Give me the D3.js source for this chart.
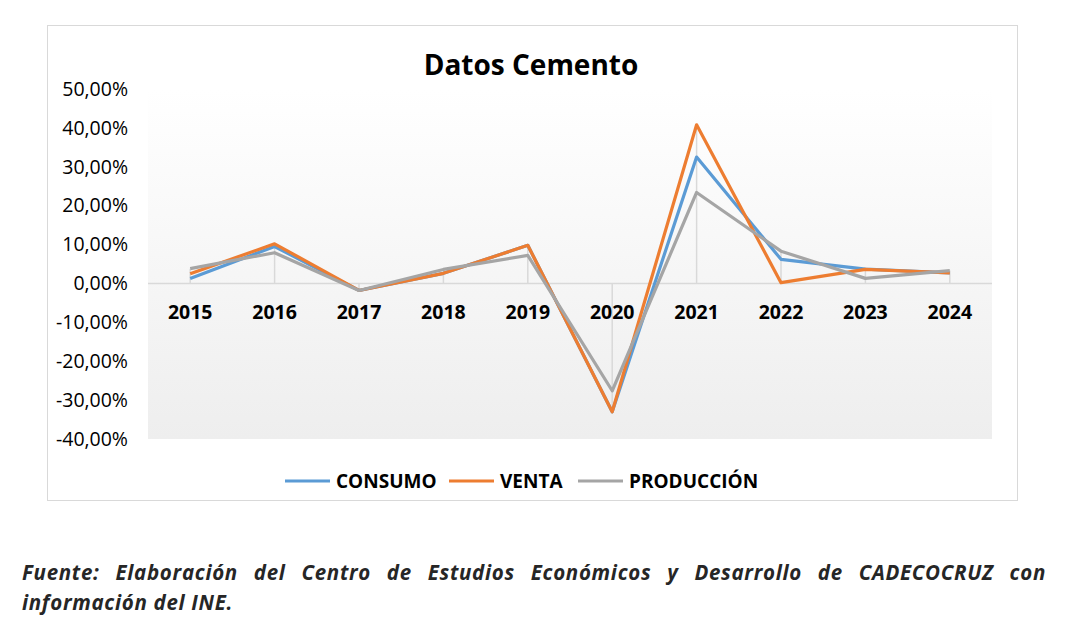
<!DOCTYPE html>
<html>
<head>
<meta charset="utf-8">
<style>
  html, body { margin: 0; padding: 0; background: #fff; }
  #chart { position: absolute; left: 0; top: 0; }
  .note {
    position: absolute; left: 22px; top: 557px; width: 1024px;
    font-family: "Open Sans", sans-serif;
    font-weight: bold; font-style: italic; font-size: 20.5px;
    letter-spacing: 0.7px;
    line-height: 30px; color: #262626;
    text-align: justify; text-align-last: left;
  }
</style>
</head>
<body>
<div id="chart"></div>
<div class="note">Fuente: Elaboración del Centro de Estudios Económicos y Desarrollo de CADECOCRUZ con información del INE.</div>

<script src="https://d3js.org/d3.v7.min.js"></script>
<script>

var years = ["2015", "2016", "2017", "2018", "2019", "2020", "2021", "2022", "2023", "2024"];
var consumo    = [1.3, 9.5, -1.8, 2.6, 9.8, -33.0, 32.5, 6.2, 3.7, 2.7];
var venta      = [2.5, 10.2, -1.8, 2.6, 9.8, -33.0, 40.8, 0.2, 3.6, 2.7];
var produccion = [3.8, 7.9, -1.8, 3.6, 7.2, -27.6, 23.4, 8.3, 1.3, 3.3];
var yTicks = [50, 40, 30, 20, 10, 0, -10, -20, -30, -40];

var seriesNames = ["CONSUMO", "VENTA", "PRODUCCIÓN"];
var seriesColors = ["#5b9bd5", "#ed7d31", "#a5a5a5"];
var series = [consumo, venta, produccion];

var font = "'Open Sans', sans-serif";

var W = 1076, H = 621;
var svg = d3.select("#chart").append("svg")
    .attr("width", W)
    .attr("height", H);

// outer chart frame
svg.append("rect")
    .attr("x", 47.5).attr("y", 25.5)
    .attr("width", 970).attr("height", 475)
    .attr("fill", "#fff")
    .attr("stroke", "#d9d9d9");

var x = d3.scaleBand()
    .domain(years)
    .range([148, 992]);

var y = d3.scaleLinear()
    .domain([-40, 50])
    .range([439, 89]);

var defs = svg.append("defs");
var grad = defs.append("linearGradient")
    .attr("id", "bg").attr("x1", 0).attr("y1", 0).attr("x2", 0).attr("y2", 1);
grad.append("stop").attr("offset", "0%").attr("stop-color", "#ffffff");
grad.append("stop").attr("offset", "100%").attr("stop-color", "#eeeeee");

svg.append("rect")
    .attr("x", 148).attr("y", y(50))
    .attr("width", 844).attr("height", y(-40) - y(50))
    .attr("fill", "url(#bg)");

// drop lines
var drops = years.map(function(d, i) {
  var vals = series.map(function(s) { return s[i]; });
  return { year: d, lo: Math.min(0, d3.min(vals)), hi: Math.max(0, d3.max(vals)) };
});
svg.append("g").selectAll("line")
    .data(drops)
  .enter().append("line")
    .attr("x1", function(d) { return x(d.year) + x.bandwidth() / 2; })
    .attr("x2", function(d) { return x(d.year) + x.bandwidth() / 2; })
    .attr("y1", function(d) { return y(d.lo); })
    .attr("y2", function(d) { return y(d.hi); })
    .attr("stroke", "#d9d9d9")
    .attr("stroke-width", 1.5);

// zero axis
svg.append("line")
    .attr("x1", 148).attr("x2", 992)
    .attr("y1", y(0)).attr("y2", y(0))
    .attr("stroke", "#d9d9d9")
    .attr("stroke-width", 1.5);

// y labels
svg.append("g").selectAll("text")
    .data(yTicks)
  .enter().append("text")
    .attr("x", 128)
    .attr("y", function(d) { return y(d); })
    .attr("dy", "0.35em")
    .attr("text-anchor", "end")
    .style("font-family", font)
    .style("font-size", "19.5px")
    .attr("fill", "#000")
    .text(function(d) { return d.toFixed(2).replace(".", ",") + "%"; });

// x labels
svg.append("g").selectAll("text")
    .data(years)
  .enter().append("text")
    .attr("x", function(d) { return x(d) + x.bandwidth() / 2; })
    .attr("y", 319)
    .attr("text-anchor", "middle")
    .style("font-family", font)
    .style("font-size", "19.5px")
    .style("font-weight", "bold")
    .text(function(d) { return d; });

var line = d3.line()
    .x(function(d, i) { return x(years[i]) + x.bandwidth() / 2; })
    .y(function(d) { return y(d); });

series.forEach(function(s, k) {
  svg.append("path")
      .datum(s)
      .attr("d", line)
      .attr("fill", "none")
      .attr("stroke", seriesColors[k])
      .attr("stroke-width", 3.2)
      .attr("stroke-linejoin", "round");
});

// title
svg.append("text")
    .attr("x", 531).attr("y", 75)
    .attr("text-anchor", "middle")
    .style("font-family", font)
    .style("font-size", "28px")
    .style("font-weight", "bold")
    .text("Datos Cemento");

// legend
var legendX = [285, 449, 578];
var legend = svg.append("g").selectAll("g")
    .data(seriesNames)
  .enter().append("g")
    .attr("transform", function(d, i) { return "translate(" + legendX[i] + ",481)"; });

legend.append("line")
    .attr("x1", 0).attr("x2", 45)
    .attr("stroke", function(d, i) { return seriesColors[i]; })
    .attr("stroke-width", 3.2);

legend.append("text")
    .attr("x", 51)
    .attr("dy", "0.35em")
    .style("font-family", font)
    .style("font-size", "19px")
    .style("font-weight", "bold")
    .text(function(d) { return d; });

</script>
</body>
</html>
